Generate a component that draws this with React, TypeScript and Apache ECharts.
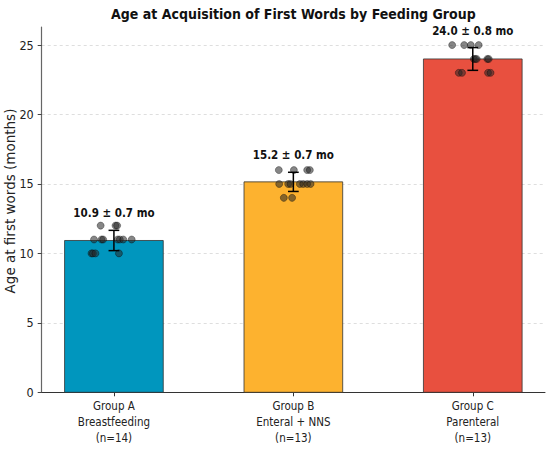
import React, { useEffect, useRef } from "react";
import * as echarts from "echarts";

const categories = ["Group A\nBreastfeeding\n(n=14)", "Group B\nEnteral + NNS\n(n=13)", "Group C\nParenteral\n(n=13)"];
const positions = [0, 1, 2];
const means = [10.93, 15.15, 24.0];
const sds = [0.73, 0.69, 0.82];
const meanLabels = ["10.9 ± 0.7 mo", "15.2 ± 0.7 mo", "24.0 ± 0.8 mo"];
const barColors = ["#0096BE", "#FDB22F", "#E8503F"];
const yTicks = [0, 5, 10, 15, 20, 25];

const pointsA: [number, number][] = [
  [-0.074, 12], [0.009, 12], [0.018, 12],
  [-0.111, 11], [-0.069, 11], [-0.06, 11], [0.021, 11], [0.033, 11], [0.052, 11], [0.099, 11],
  [-0.125, 10], [-0.117, 10], [-0.103, 10], [0.028, 10],
];
const pointsB: [number, number][] = [
  [0.919, 16], [1.003, 16], [1.077, 16], [1.092, 16],
  [0.921, 15], [0.971, 15], [0.984, 15], [1.036, 15], [1.055, 15], [1.077, 15], [1.096, 15],
  [0.947, 14], [0.993, 14],
];
const pointsC: [number, number][] = [
  [1.885, 25], [1.952, 25], [1.989, 25], [2.033, 25],
  [2.006, 24], [2.014, 24], [2.022, 24], [2.081, 24], [2.089, 24],
  [1.922, 23], [1.94, 23], [2.085, 23], [2.099, 23],
];

const COND = "'DejaVu Sans Condensed', 'DejaVu Sans', sans-serif";
const REG = "'DejaVu Sans', sans-serif";

export default function App() {
  const ref = useRef<HTMLDivElement>(null);
  useEffect(() => {
    if (!ref.current) return;
    const chart = echarts.init(ref.current, undefined, { renderer: "svg" });
    const barData = positions.map((p, i) => [p, means[i], sds[i]]);
    const option: any = {
      animation: false,
      backgroundColor: "#ffffff",
      grid: { left: 41.7, right: 5, top: 27, bottom: 59.7, outerBoundsMode: "none" },
      xAxis: {
        type: "value",
        min: -0.4025,
        max: 2.4025,
        splitLine: { show: false },
        axisLine: { show: true, onZero: false, lineStyle: { color: "#333", width: 1 } },
        axisTick: { show: true, customValues: positions, length: 4, lineStyle: { color: "#333" } },
        axisLabel: {
          customValues: positions,
          formatter: (v: number) => categories[Math.round(v)],
          fontFamily: COND,
          fontSize: 11.5,
          lineHeight: 16,
          color: "#222",
          margin: 6,
        },
      },
      yAxis: {
        type: "value",
        min: 0,
        max: 26.3,
        interval: 5,
        axisLine: { show: true, onZero: false, lineStyle: { color: "#666", width: 1.2 } },
        axisTick: { show: true, customValues: yTicks, length: 4, lineStyle: { color: "#444" } },
        axisLabel: { customValues: yTicks, fontFamily: COND, fontSize: 12.5, color: "#222", margin: 8 },
        splitLine: { show: true, lineStyle: { type: [3, 3], color: "#d6d6d6", width: 0.8 } },
      },
      graphic: [
        {
          type: "text",
          x: 293.4,
          y: 14,
          style: {
            text: "Age at Acquisition of First Words by Feeding Group",
            fontFamily: COND,
            fontWeight: "bold",
            fontSize: 14,
            fill: "#111",
            align: "center",
            verticalAlign: "middle",
          },
        },
        {
          type: "text",
          x: 10,
          y: 201,
          rotation: Math.PI / 2,
          style: {
            text: "Age at first words (months)",
            fontFamily: REG,
            fontSize: 13.5,
            fill: "#222",
            align: "center",
            verticalAlign: "middle",
          },
        },
      ],
      series: [
        {
          type: "custom",
          z: 1,
          data: barData,
          renderItem: (params: any, api: any) => {
            const x = api.value(0);
            const y = api.value(1);
            const p0 = api.coord([x - 0.275, y]);
            const p1 = api.coord([x + 0.275, 0]);
            return {
              type: "rect",
              shape: { x: p0[0], y: p0[1], width: p1[0] - p0[0], height: p1[1] - p0[1] },
              style: { fill: barColors[params.dataIndex], stroke: "#333", lineWidth: 0.8 },
            };
          },
        },
        ...[pointsA, pointsB, pointsC].map((pts) => ({
          type: "scatter",
          z: 2,
          data: pts,
          symbolSize: 7,
          itemStyle: { color: "rgba(40,40,40,0.7)", borderColor: "rgba(0,0,0,0.85)", borderWidth: 0.5 },
        })),
        {
          type: "custom",
          z: 3,
          data: barData,
          renderItem: (params: any, api: any) => {
            const x = api.value(0);
            const m = api.value(1);
            const s = api.value(2);
            const top = api.coord([x, m + s]);
            const bot = api.coord([x, m - s]);
            const capL = api.coord([x - 0.03, m])[0];
            const capR = api.coord([x + 0.03, m])[0];
            const ls = { stroke: "#000", lineWidth: 1.5 };
            const lbl = api.coord([x, m + s + 1.22]);
            return {
              type: "group",
              children: [
                { type: "line", shape: { x1: top[0], y1: top[1], x2: bot[0], y2: bot[1] }, style: ls },
                { type: "line", shape: { x1: capL, y1: top[1], x2: capR, y2: top[1] }, style: ls },
                { type: "line", shape: { x1: capL, y1: bot[1], x2: capR, y2: bot[1] }, style: ls },
                {
                  type: "text",
                  x: lbl[0],
                  y: lbl[1],
                  style: {
                    text: meanLabels[params.dataIndex],
                    fontFamily: COND,
                    fontWeight: "bold",
                    fontSize: 11.5,
                    fill: "#111",
                    align: "center",
                    verticalAlign: "middle",
                  },
                },
              ],
            };
          },
        },
      ],
    };
    chart.setOption(option);
    return () => chart.dispose();
  }, []);
  return <div ref={ref} style={{ position: "fixed", left: 0, top: 0, width: 550, height: 452 }} />;
}
